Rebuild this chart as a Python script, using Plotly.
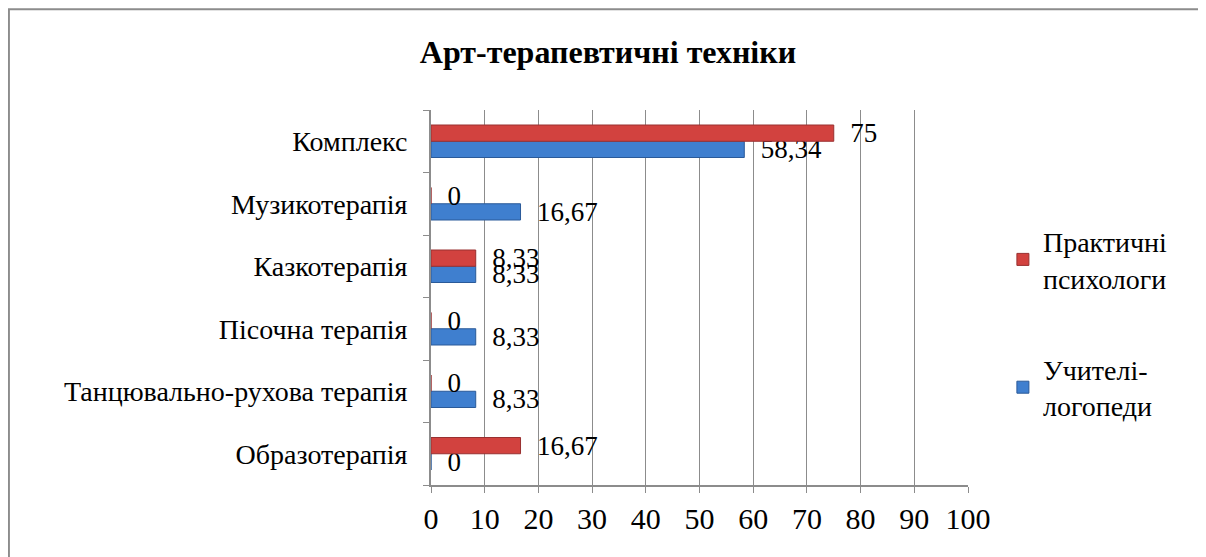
import plotly.graph_objects as go

categories = ["Образотерапія", "Танцювально-рухова терапія", "Пісочна терапія",
              "Казкотерапія", "Музикотерапія", "Комплекс"]
psychologists = [16.67, 0, 0, 8.33, 0, 75]
speech_therapists = [0, 8.33, 8.33, 8.33, 16.67, 58.34]
series_names = ["Практичні<br>психологи", "Учителі-<br>логопеди"]
x_ticks = [0, 10, 20, 30, 40, 50, 60, 70, 80, 90, 100]


def fmt(v):
    return "\u00a0\u00a0" + ("%g" % v).replace(".", ",")


FONT = "Times New Roman, Liberation Serif, serif"

fig = go.Figure()
fig.add_trace(go.Bar(
    y=categories, x=speech_therapists, orientation="h", name=series_names[1],
    marker=dict(color="#3f7fcf", line=dict(color="#2a5a99", width=1)),
    text=[fmt(v) for v in speech_therapists], textposition="outside",
    constraintext="none",
    textfont=dict(family=FONT, size=27, color="black"), cliponaxis=False,
    legendgroup="b", legendrank=2,
))
fig.add_trace(go.Bar(
    y=categories, x=psychologists, orientation="h", name=series_names[0],
    marker=dict(color="#d2423f", line=dict(color="#993030", width=1)),
    text=[fmt(v) for v in psychologists], textposition="outside",
    constraintext="none",
    textfont=dict(family=FONT, size=27, color="black"), cliponaxis=False,
    legendgroup="a", legendrank=1,
))

fig.update_layout(
    width=1206, height=557,
    margin=dict(l=423, r=246, t=102, b=80, autoexpand=False),
    paper_bgcolor="white", plot_bgcolor="white",
    barmode="group", bargap=0.48, bargroupgap=0,
    title=dict(text="<b>Арт-терапевтичні техніки</b>", x=0.4975, xanchor="center",
               y=0.921, yanchor="middle",
               font=dict(family=FONT, size=32, color="black")),
    font=dict(family=FONT, color="black"),
    showlegend=True,
    legend=dict(x=1.065, y=0.716, xanchor="left", yanchor="top",
                font=dict(family=FONT, size=28, color="black"),
                itemwidth=30,
                tracegroupgap=52, bgcolor="rgba(0,0,0,0)"),
)
fig.update_xaxes(
    range=[0, 100], tickvals=x_ticks, ticktext=[str(t) for t in x_ticks],
    showgrid=True, gridcolor="#8c8c8c", gridwidth=1,
    showline=True, linecolor="#8c8c8c", linewidth=2,
    ticks="outside", ticklen=6, tickcolor="#8c8c8c",
    tickfont=dict(family=FONT, size=30, color="black"), zeroline=False,
    automargin=False,
)
fig.update_yaxes(
    categoryorder="array", categoryarray=categories,
    showline=True, linecolor="#8c8c8c", linewidth=2,
    ticks="outside", ticklen=6, tickcolor="#8c8c8c", tickson="boundaries",
    tickfont=dict(family=FONT, size=28, color="black"), showgrid=False,
    ticklabelstandoff=16, automargin=False,
)
fig.add_shape(type="rect", xref="paper", yref="paper",
              x0=-0.786, x1=1.47, y0=-0.35, y1=1.269,
              line=dict(color="#8c8c8c", width=2), fillcolor="rgba(0,0,0,0)",
              layer="below")

fig.write_html("out.html")
